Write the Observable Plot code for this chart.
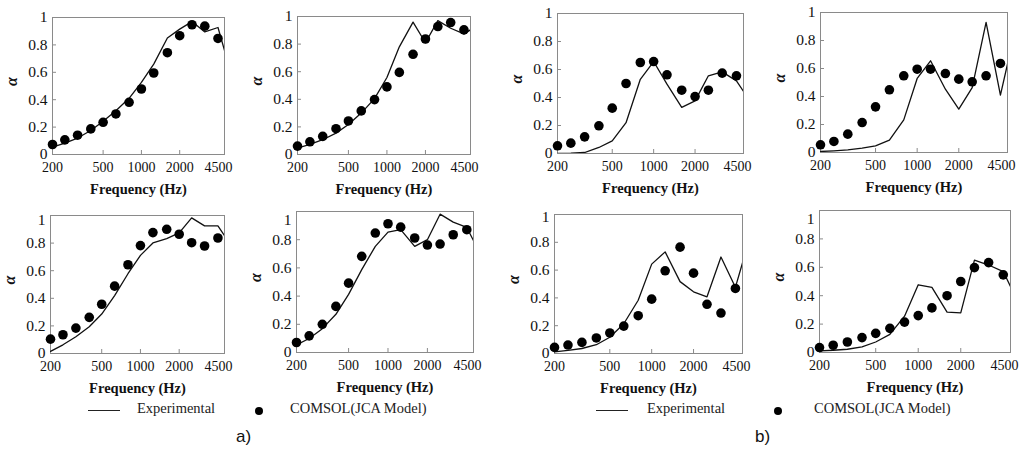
<!DOCTYPE html>
<html><head><meta charset="utf-8">
<script src="https://cdn.jsdelivr.net/npm/d3@7"></script>
<script src="https://cdn.jsdelivr.net/npm/@observablehq/plot@0.6"></script>
<style>
body{margin:0;background:#fff;}
#root{position:relative;width:1028px;height:449px;overflow:hidden;font-family:"Liberation Serif","Times New Roman",serif;color:#111;}
.panel{position:absolute;}
.lg{position:absolute;font-size:14.5px;line-height:16px;white-space:nowrap;color:#222;}
.lgline{position:absolute;height:1.3px;background:#222;}
.lgdot{position:absolute;width:8px;height:8px;border-radius:50%;background:#000;}
.tag{position:absolute;font-family:"Liberation Sans",Arial,sans-serif;font-size:17px;line-height:20px;color:#111;}
</style>
</head><body><div id="root"></div>
<script>
// 1/3-octave band centre frequencies (Hz)
const freqs = [200,250,315,400,500,630,800,1000,1250,1600,2000,2500,3150,4000,5000];
const xTicks = [200,500,1000,2000,4500];
const yTicks = [0,0.2,0.4,0.6,0.8,1];
const legendExp = "Experimental";
const legendJca = "COMSOL(JCA Model)";
const xLabel = "Frequency (Hz)";
const yLabel = "α";

// a) panels
const expA1 = [0.053,0.083,0.12,0.175,0.243,0.32,0.41,0.527,0.66,0.85,0.915,0.97,0.895,0.927,0.61];
const jcaA1 = [0.073,0.107,0.141,0.187,0.235,0.296,0.381,0.478,0.595,0.743,0.867,0.947,0.937,0.847];
const expA2 = [0.046,0.073,0.107,0.155,0.218,0.30,0.405,0.558,0.78,0.959,0.81,0.97,0.915,0.874,0.93];
const jcaA2 = [0.061,0.092,0.131,0.187,0.243,0.316,0.398,0.49,0.595,0.726,0.837,0.927,0.956,0.903];
const expA3 = [0.015,0.063,0.121,0.194,0.286,0.42,0.578,0.711,0.801,0.833,0.874,0.983,0.925,0.925,0.79];
const jcaA3 = [0.104,0.136,0.184,0.262,0.357,0.488,0.643,0.782,0.876,0.9,0.864,0.803,0.779,0.837];
const expA4 = [0.054,0.099,0.169,0.271,0.412,0.588,0.753,0.854,0.871,0.753,0.8,0.981,0.925,0.887,0.71];
const jcaA4 = [0.071,0.118,0.2,0.327,0.492,0.682,0.847,0.913,0.889,0.812,0.762,0.769,0.835,0.871];
// b) panels
const expB1 = [0.0,0.002,0.007,0.043,0.09,0.22,0.53,0.657,0.495,0.33,0.376,0.555,0.583,0.519,0.377];
const jcaB1 = [0.055,0.074,0.119,0.198,0.324,0.5,0.65,0.657,0.562,0.452,0.407,0.452,0.574,0.555];
const expB2 = [0.007,0.012,0.019,0.031,0.048,0.088,0.233,0.529,0.655,0.452,0.31,0.464,0.929,0.41,0.83];
const jcaB2 = [0.055,0.079,0.131,0.214,0.326,0.448,0.548,0.595,0.595,0.564,0.524,0.505,0.548,0.636];
const expB3 = [0.012,0.022,0.036,0.063,0.117,0.214,0.383,0.643,0.731,0.517,0.444,0.408,0.694,0.476,0.81];
const jcaB3 = [0.044,0.061,0.08,0.112,0.148,0.197,0.272,0.391,0.595,0.765,0.578,0.354,0.291,0.468];
const expB4 = [0.012,0.016,0.023,0.04,0.074,0.128,0.256,0.477,0.458,0.284,0.279,0.651,0.616,0.57,0.37];
const jcaB4 = [0.035,0.051,0.074,0.105,0.135,0.17,0.214,0.26,0.314,0.4,0.5,0.598,0.633,0.547];

// layout: frame box [left, top, right, bottom] in page pixels
const panels = [
  {exp: expA1, jca: jcaA1, box: [52,17,224,154], oneDy: 0},
  {exp: expA2, jca: jcaA2, box: [297,16,470,154], oneDy: 0},
  {exp: expA3, jca: jcaA3, box: [50,215,224,353], oneDy: 5},
  {exp: expA4, jca: jcaA4, box: [296,211,473,352], oneDy: 9},
  {exp: expB1, jca: jcaB1, box: [557,13,743,153], oneDy: 0},
  {exp: expB2, jca: jcaB2, box: [820,12,1007,152], oneDy: 0},
  {exp: expB3, jca: jcaB3, box: [554,214,742,353], oneDy: 3},
  {exp: expB4, jca: jcaB4, box: [819,210,1010,352], oneDy: 9}
];

const root = document.getElementById("root");
const gray = "#8a8a8a";
const fsX = 14, fsY = 15.5;
const fmt = d => String(d);

for (const p of panels) {
  const [L,T,R,B] = p.box;
  const mL = 45, mR = 14, mT = 12, mB = 50;
  const expRows = p.exp.map((v,i) => ({f: freqs[i], a: v}));
  const jcaRows = p.jca.map((v,i) => ({f: freqs[i], a: v}));
  const svg = Plot.plot({
    width: R - L + mL + mR,
    height: B - T + mT + mB,
    marginLeft: mL, marginRight: mR, marginTop: mT, marginBottom: mB,
    style: "max-width:none;overflow:visible;background:transparent;font-family:'Liberation Serif','Times New Roman',serif;",
    x: {type: "log", domain: [200, 4500]},
    y: {domain: [0, 1]},
    marks: [
      Plot.axisX({ticks: xTicks.slice(1,4), fill: "none", tickSize: 4, dy: -4, stroke: gray, label: null}),
      Plot.axisY({ticks: yTicks.slice(1,5), fill: "none", tickSize: 4, dx: 4, stroke: gray, label: null}),
      Plot.axisX({ticks: xTicks.slice(0,4), tickSize: 0, tickPadding: 8, fontSize: fsX, fill: "#111", tickFormat: fmt, label: null}),
      Plot.axisX({ticks: xTicks.slice(4), tickSize: 0, tickPadding: 8, dx: -6, fontSize: fsX, fill: "#111", tickFormat: fmt, label: null}),
      Plot.axisY({ticks: yTicks.slice(0,5), tickSize: 0, tickPadding: 5, fontSize: fsY, fill: "#111", tickFormat: fmt, label: null}),
      Plot.axisY({ticks: yTicks.slice(5), tickSize: 0, tickPadding: 5, dy: p.oneDy, fontSize: fsY, fill: "#111", tickFormat: fmt, label: null}),
      Plot.frame({stroke: gray, strokeWidth: 1}),
      Plot.line(expRows, {x: "f", y: "a", stroke: "#111", strokeWidth: 1.3, clip: true}),
      Plot.dot(jcaRows, {x: "f", y: "a", r: 4.8, fill: "#000", stroke: "none"}),
      Plot.text([yLabel], {frameAnchor: "left", dx: -41, rotate: -90, fontSize: 16, fontWeight: "bold", fontStyle: "italic", fill: "#111"}),
      Plot.text([xLabel], {frameAnchor: "bottom", dy: 39, fontSize: 14.5, fontWeight: "bold", fill: "#111"})
    ]
  });
  const div = document.createElement("div");
  div.className = "panel";
  div.style.left = (L - mL) + "px";
  div.style.top = (T - mT) + "px";
  div.appendChild(svg);
  root.appendChild(div);
}

// legends and sub-figure tags
function add(cls, css, text) {
  const d = document.createElement("div");
  d.className = cls;
  Object.assign(d.style, css);
  if (text) d.textContent = text;
  root.appendChild(d);
}
const legends = [
  {lineX: 88, textX: 137, dotX: 259, jcaX: 290, tag: "a)", tagX: 236},
  {lineX: 596, textX: 647, dotX: 778, jcaX: 814, tag: "b)", tagX: 755}
];
for (const g of legends) {
  add("lgline", {left: g.lineX + "px", top: "410px", width: "32px"});
  add("lg", {left: g.textX + "px", top: "400px"}, legendExp);
  add("lgdot", {left: (g.dotX - 4) + "px", top: "407px"});
  add("lg", {left: g.jcaX + "px", top: "400px"}, legendJca);
  add("tag", {left: g.tagX + "px", top: "427px"}, g.tag);
}
</script>
</body></html>
